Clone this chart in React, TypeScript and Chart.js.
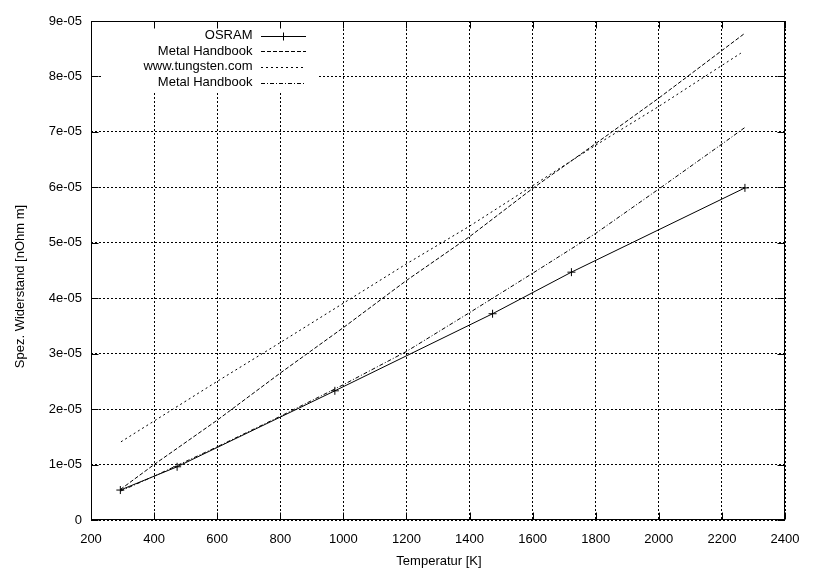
import React, { useEffect, useRef } from "react";
import { Chart, registerables } from "chart.js";

Chart.register(...registerables);

// ---- data ----
const osramT = [293, 473, 973, 1473, 1723, 2273];
const osramR = [5.4e-6, 9.6e-6, 2.33e-5, 3.72e-5, 4.47e-5, 5.99e-5];

const handbookT = [293, 400, 600, 800, 1000, 1200, 1400, 1600, 1800, 2000, 2273];
const handbookR = [5.5e-6, 1.0e-5, 1.8e-5, 2.65e-5, 3.47e-5, 4.32e-5, 5.11e-5, 5.98e-5, 6.79e-5, 7.61e-5, 8.78e-5];

const tungstenT = [295, 600, 800, 1000, 1200, 1400, 1600, 1800, 2000, 2260];
const tungstenR = [1.41e-5, 2.5e-5, 3.2e-5, 3.91e-5, 4.62e-5, 5.3e-5, 6.03e-5, 6.76e-5, 7.46e-5, 8.42e-5];

const handbook2T = [293, 400, 600, 800, 1000, 1200, 1400, 1600, 1800, 2000, 2200, 2273];
const handbook2R = [5.2e-6, 7.9e-6, 1.32e-5, 1.87e-5, 2.44e-5, 3.04e-5, 3.74e-5, 4.45e-5, 5.17e-5, 5.97e-5, 6.78e-5, 7.08e-5];

const seriesLabels = ["OSRAM", "Metal Handbook", "www.tungsten.com", "Metal Handbook"];

const xTickValues = [200, 400, 600, 800, 1000, 1200, 1400, 1600, 1800, 2000, 2200, 2400];
const xTickLabels = ["200", "400", "600", "800", "1000", "1200", "1400", "1600", "1800", "2000", "2200", "2400"];
const yTickValues = [0, 1e-5, 2e-5, 3e-5, 4e-5, 5e-5, 6e-5, 7e-5, 8e-5, 9e-5];
const yTickLabels = ["0", "1e-05", "2e-05", "3e-05", "4e-05", "5e-05", "6e-05", "7e-05", "8e-05", "9e-05"];

const xTitle = "Temperatur [K]";
const yTitle = "Spez. Widerstand [nOhm m]";

const FONT = "'Liberation Sans', Arial, Helvetica, sans-serif";

function pts(xs: number[], ys: number[]) {
  return xs.map((x, i) => ({ x, y: ys[i] }));
}

const dashes: number[][] = [[], [4, 2], [2, 3], [4, 2, 1, 2]];

const framePlugin = {
  id: "gnuplotFrame",
  afterDraw(chart: any) {
    const { ctx, chartArea: a, scales } = chart;
    const xs = scales.x;
    const ys = scales.y;
    const L = Math.round(a.left) + 0.5;
    const R = Math.round(a.right) - 0.5;
    const T = Math.round(a.top) + 0.5;
    const B = Math.round(a.bottom) - 0.5;
    ctx.save();

    // key box (hides grid lines)
    ctx.fillStyle = "#ffffff";
    ctx.fillRect(a.left + 11, a.top + 6, 215, 65);

    ctx.strokeStyle = "#000";
    ctx.lineWidth = 1;
    ctx.setLineDash([]);
    // frame
    ctx.strokeRect(L, T, R - L, B - T);

    // inward ticks, mirrored
    const tl = 7;
    ctx.beginPath();
    xTickValues.forEach((v) => {
      const px = Math.round(xs.getPixelForValue(v)) + 0.5;
      ctx.moveTo(px, B);
      ctx.lineTo(px, B - tl);
      ctx.moveTo(px, T);
      ctx.lineTo(px, T + tl);
    });
    yTickValues.forEach((v) => {
      const py = Math.round(ys.getPixelForValue(v)) + 0.5;
      ctx.moveTo(L, py);
      ctx.lineTo(L + tl, py);
      ctx.moveTo(R, py);
      ctx.lineTo(R - tl, py);
    });
    ctx.stroke();

    // key
    ctx.font = `13px ${FONT}`;
    ctx.fillStyle = "#000";
    ctx.textAlign = "right";
    ctx.textBaseline = "middle";
    chart.data.datasets.forEach((ds: any, i: number) => {
      const y = a.top + 14.5 + i * 15.7;
      ctx.fillText(ds.label, a.left + 161.5, y);
      const yy = Math.round(y) + 0.5;
      ctx.setLineDash(dashes[i]);
      ctx.beginPath();
      ctx.moveTo(a.left + 170, yy);
      ctx.lineTo(a.left + 215, yy);
      ctx.stroke();
      ctx.setLineDash([]);
      if (i === 0) {
        const cx = Math.round(a.left + 192) + 0.5;
        ctx.beginPath();
        ctx.moveTo(cx - 4, yy);
        ctx.lineTo(cx + 4, yy);
        ctx.moveTo(cx, yy - 4);
        ctx.lineTo(cx, yy + 4);
        ctx.stroke();
      }
    });

    // axis titles
    ctx.textAlign = "center";
    ctx.textBaseline = "middle";
    ctx.fillText(xTitle, (a.left + a.right) / 2 + 1, 561);
    ctx.translate(20, 286.5);
    ctx.rotate(-Math.PI / 2);
    ctx.fillText(yTitle, 0, 0);
    ctx.restore();
  },
};

export default function App() {
  const ref = useRef<HTMLCanvasElement | null>(null);

  useEffect(() => {
    if (!ref.current) return;
    const mk = (i: number, xs: number[], ys: number[], marker: boolean) => ({
      label: seriesLabels[i],
      data: pts(xs, ys),
      showLine: true,
      borderColor: "#000",
      backgroundColor: "#000",
      borderWidth: 1,
      borderDash: dashes[i],
      pointRadius: marker ? 4 : 0,
      pointHoverRadius: marker ? 4 : 0,
      pointStyle: "cross",
      pointBorderWidth: 1,
      pointBorderColor: "#000",
      tension: 0,
      fill: false,
    });
    const chart = new Chart(ref.current, {
      type: "scatter",
      data: {
        datasets: [
          mk(0, osramT, osramR, true),
          mk(1, handbookT, handbookR, false),
          mk(2, tungstenT, tungstenR, false),
          mk(3, handbook2T, handbook2R, false),
        ] as any,
      },
      options: {
        responsive: false,
        animation: false,
        devicePixelRatio: 1,
        layout: { padding: { left: 0, right: 29, top: 21, bottom: 0 } },
        plugins: {
          legend: { display: false },
          tooltip: { enabled: false },
        },
        scales: {
          x: {
            type: "linear",
            min: 200,
            max: 2400,
            afterBuildTicks: (s: any) => {
              s.ticks = xTickValues.map((v) => ({ value: v }));
            },
            afterFit: (s: any) => {
              s.height = 50;
            },
            ticks: {
              color: "#000",
              font: { family: FONT, size: 13 },
              padding: 12,
              maxRotation: 0,
              autoSkip: false,
              callback: (v: any) => {
                const i = xTickValues.indexOf(Number(v));
                return i >= 0 ? xTickLabels[i] : "";
              },
            },
            grid: { color: "#000", lineWidth: 1, drawTicks: false },
            border: { display: false, dash: [2, 2] },
          },
          y: {
            type: "linear",
            min: 0,
            max: 9e-5,
            afterBuildTicks: (s: any) => {
              s.ticks = yTickValues.map((v) => ({ value: v }));
            },
            afterFit: (s: any) => {
              s.width = 91;
            },
            ticks: {
              color: "#000",
              font: { family: FONT, size: 13 },
              padding: 9,
              autoSkip: false,
              callback: (v: any) => {
                const n = Number(v);
                let best = 0;
                yTickValues.forEach((t, i) => {
                  if (Math.abs(t - n) < Math.abs(yTickValues[best] - n)) best = i;
                });
                return yTickLabels[best];
              },
            },
            grid: { color: "#000", lineWidth: 1, drawTicks: false },
            border: { display: false, dash: [2, 2] },
          },
        },
      },
      plugins: [framePlugin],
    } as any);
    return () => chart.destroy();
  }, []);

  return (
    <div style={{ position: "fixed", left: 0, top: 0, width: 814, height: 570, background: "#fff" }}>
      <canvas ref={ref} width={814} height={570} />
    </div>
  );
}
